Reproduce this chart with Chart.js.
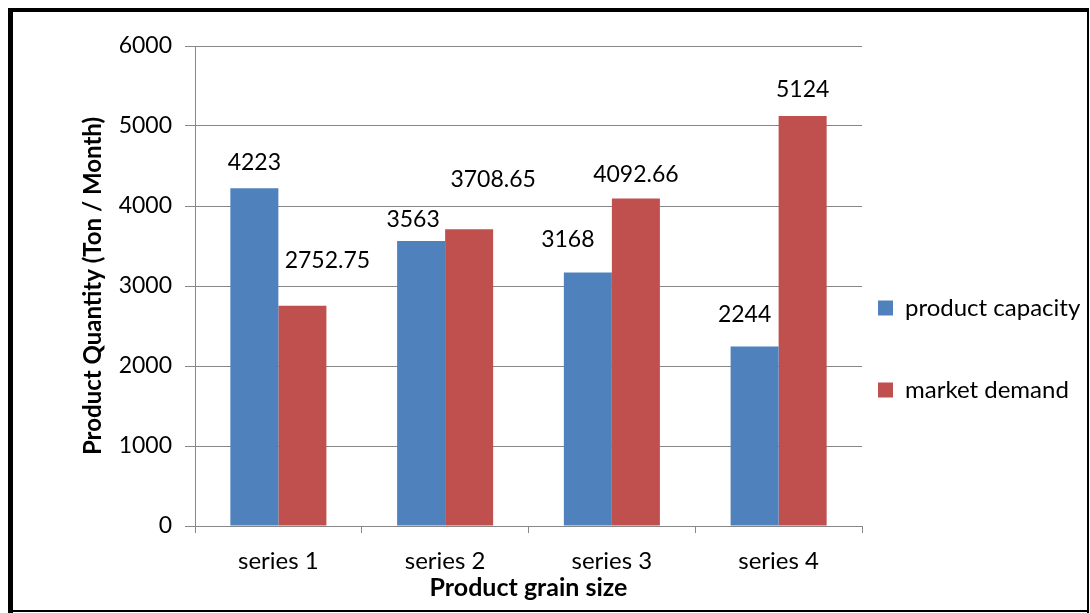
<!DOCTYPE html>
<html>
<head>
<meta charset="utf-8">
<script src="https://cdn.jsdelivr.net/npm/chart.js@4.4.1/dist/chart.umd.min.js"></script>
<style>
  html, body { margin: 0; padding: 0; background: #ffffff; }
  #wrap { position: relative; width: 1090px; height: 613px; }
  canvas { display: block; }
</style>
</head>
<body>
<div id="wrap"><canvas id="chart" width="1090" height="613"></canvas></div>
<script>
// Data
const categories = ['series 1', 'series 2', 'series 3', 'series 4'];
const seriesNames = ['product capacity', 'market demand'];
const productCapacity = [4223, 3563, 3168, 2244];
const marketDemand = [2752.75, 3708.65, 4092.66, 5124];
const yAxisMin = 0;
const yAxisMax = 6000;
const yAxisStep = 1000;

const FONT = 'Lato, "Open Sans", sans-serif';
const GRID = '#878787';

// Value labels above each bar, nudged sideways/upwards per bar
const valueLabels = {
  id: 'valueLabels',
  afterDatasetsDraw(chart, args, opts) {
    const ctx = chart.ctx;
    ctx.save();
    ctx.font = '23px ' + FONT;
    ctx.fillStyle = '#000000';
    ctx.textAlign = 'center';
    ctx.textBaseline = 'alphabetic';
    chart.data.datasets.forEach((ds, di) => {
      const meta = chart.getDatasetMeta(di);
      meta.data.forEach((bar, i) => {
        const off = opts.offsets[di][i];
        ctx.fillText(String(ds.data[i]), bar.x + off[0], bar.y - off[1]);
      });
    });
    ctx.restore();
  }
};

// Places the legend column to the right of the plot
const legendPlacement = {
  id: 'legendPlacement',
  afterLayout(chart, args, opts) {
    const lg = chart.legend;
    if (!lg) return;
    const pad = lg.options.labels.padding;
    lg.left = opts.boxX - pad;
    lg.right = chart.width;
    lg.width = lg.right - lg.left;
    lg.top = opts.firstRowTop - pad;
    lg.bottom = chart.height;
    lg.height = lg.bottom - lg.top;
  }
};

// Black frame around the whole figure
const frame = {
  id: 'frame',
  afterDraw(chart) {
    const ctx = chart.ctx;
    ctx.save();
    ctx.fillStyle = '#000000';
    ctx.fillRect(8, 8, 5, 605);
    ctx.fillRect(8, 8, 1081, 4);
    ctx.fillRect(1087, 8, 2, 605);
    ctx.fillRect(8, 610, 1081, 2);
    ctx.restore();
  }
};

new Chart(document.getElementById('chart'), {
  type: 'bar',
  data: {
    labels: categories,
    datasets: [
      { label: seriesNames[0], data: productCapacity, backgroundColor: '#4F81BD' },
      { label: seriesNames[1], data: marketDemand, backgroundColor: '#C0504D' }
    ]
  },
  plugins: [valueLabels, legendPlacement, frame],
  options: {
    responsive: false,
    animation: false,
    devicePixelRatio: 1,
    layout: { padding: { top: 46, left: 14, right: 0, bottom: 0 } },
    datasets: {
      bar: { categoryPercentage: 0.576, barPercentage: 1.0, borderWidth: 0 }
    },
    scales: {
      x: {
        grid: { display: true, drawOnChartArea: false, offset: true, color: GRID, tickLength: 7, lineWidth: 1 },
        border: { display: true, color: GRID, width: 1 },
        ticks: { color: '#000000', font: { family: FONT, size: 24 }, padding: 14 },
        title: { display: true, text: 'Product grain size', color: '#000000',
                 font: { family: FONT, size: 25, weight: 'bold' }, padding: { top: 0, bottom: 10 } },
        afterFit(scale) { scale.height = 87; }
      },
      y: {
        min: yAxisMin,
        max: yAxisMax,
        ticks: { stepSize: yAxisStep, color: '#000000', font: { family: FONT, size: 23 }, padding: 13,
                 callback: (v) => String(v) },
        grid: { color: GRID, tickLength: 10, lineWidth: 1 },
        border: { display: true, color: GRID, width: 1 },
        title: { display: true, text: 'Product Quantity (Ton / Month)', color: '#000000',
                 font: { family: FONT, size: 24, weight: 'bold' }, padding: { top: 65, bottom: 0 } },
        afterFit(scale) { scale.width = 181; }
      }
    },
    plugins: {
      legend: {
        display: true,
        position: 'right',
        align: 'start',
        maxWidth: 228,
        labels: {
          boxWidth: 15, boxHeight: 15, padding: 58, color: '#000000',
          font: { family: FONT, size: 24 }
        }
      },
      legendPlacement: { boxX: 878, firstRowTop: 296 },
      valueLabels: {
        offsets: [
          [[0, 18], [-8, 14], [-20, 26], [-10, 24.5]],
          [[25, 38], [24, 42], [0, 17], [0, 19]]
        ]
      },
      tooltip: { enabled: false }
    }
  }
});
</script>
</body>
</html>
